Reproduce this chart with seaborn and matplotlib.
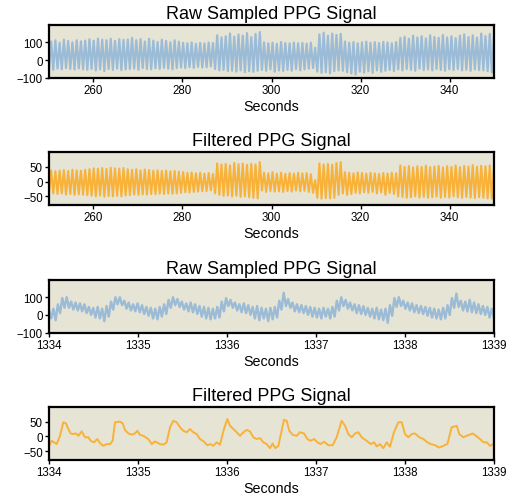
import numpy as np
import matplotlib
matplotlib.use("Agg")
import matplotlib.pyplot as plt
import seaborn as sns

# ---- data ----
# long window 250..350 s, one peak / one trough per beat (105 beats)
raw_peaks = [105, 112, 98, 115, 108, 100, 112, 106, 110,
             118, 110, 122, 115, 112, 120, 108, 118, 114, 116,
             125, 112, 118, 105, 120, 110, 102, 115, 108, 100, 112, 104,
             98, 95, 100, 92, 97, 94, 99, 96,
             140, 128, 135, 150, 132, 145, 138, 152, 130, 148, 158,
             100, 95, 98, 92, 102, 96, 94, 99, 95, 97, 93, 98,
             70,
             145, 155, 138, 150, 142, 148,
             105, 98, 102, 95, 100, 104, 97, 101, 96, 103, 99, 95, 102,
             125, 132, 120, 138, 128, 135, 122, 140, 130, 126, 142, 128,
             135, 124, 138, 145, 130, 140, 128, 150, 136, 148, 140]
raw_troughs = [-50, -55, -48, -52, -45, -50, -53, -47, -52,
               -55, -50, -58, -52, -62, -50, -55, -48, -56, -52,
               -50, -48, -55, -45, -50, -52, -46, -50, -44, -48, -52, -45,
               -42, -45, -40, -44, -38, -42, -40, -36,
               -50, -58, -55, -62, -60, -65, -58, -68, -62, -66, -60,
               -55, -60, -52, -65, -58, -62, -55, -60, -50, -58, -52, -48,
               -45,
               -65, -72, -68, -75, -62, -58,
               -60, -68, -75, -82, -65, -70, -62, -72, -58, -66, -60, -55, -62,
               -52, -58, -50, -55, -60, -48, -56, -52, -58, -50, -55, -60,
               -52, -56, -50, -58, -54, -60, -52, -56, -58, -62, -70]

filt_peaks = [38, 35, 37, 39, 36, 40, 38, 37, 40,
              42, 45, 44, 46, 43, 47, 45, 44, 46, 42,
              40, 42, 38, 41, 39, 37, 38, 36, 37, 35, 36, 34,
              32, 30, 31, 28, 30, 27, 29, 26,
              62, 58, 60, 55, 63, 59, 61, 57, 60, 58, 66,
              30, 28, 32, 27, 30, 26, 29, 27, 30, 28, 29, 25,
              5,
              62, 58, 60, 57, 63, 66,
              32, 30, 28, 31, 29, 27, 30, 28, 26, 29, 27, 30, 28,
              55, 50, 53, 48, 52, 50, 54, 49, 51, 53, 48, 52,
              50, 55, 49, 53, 51, 56, 50, 54, 52, 55, 53]
filt_troughs = [-38, -40, -42, -40, -44, -42, -45, -43, -44,
                -46, -48, -50, -47, -51, -49, -50, -48, -50, -47,
                -46, -44, -45, -43, -44, -42, -43, -41, -42, -40, -41, -40,
                -38, -36, -37, -35, -34, -33, -32, -30,
                -40, -45, -48, -47, -50, -48, -52, -50, -53, -55, -57,
                -30, -35, -32, -34, -33, -35, -32, -34, -30, -33, -31, -35,
                -38,
                -55, -58, -56, -57, -55, -45,
                -40, -45, -42, -38, -40, -36, -38, -35, -40, -37, -45, -38, -42,
                -50, -52, -55, -53, -50, -54, -52, -55, -53, -51, -55, -52,
                -54, -50, -53, -55, -52, -54, -56, -53, -55, -57, -58]

# short window 1334..1339 s, raw band upper / lower edge every 0.05 s
raw_zoom_hi = [30, 35, 60, 95, 100, 75, 70, 65, 60, 45, 40, 45, 35, 50, 75, 100, 100,
               80, 70, 60, 65, 55, 45, 40, 35, 45, 60, 85, 100, 90, 75, 65, 70, 60,
               50, 45, 40, 35, 45, 75, 95, 85, 70, 60, 65, 55, 45, 50, 40, 35, 40,
               45, 80, 125, 90, 70, 60, 55, 50, 45, 40, 35, 40, 35, 45, 80, 100,
               85, 70, 60, 55, 50, 40, 35, 40, 30, 35, 55, 95, 100, 80, 70, 65,
               55, 50, 45, 40, 35, 30, 40, 55, 95, 120, 80, 75, 85, 70, 60, 50, 45, 35]
raw_zoom_lo = [-20, -30, 10, 40, 40, 30, 25, 20, 10, 0, -15, -20, -35, -10, 30, 60, 55,
               35, 25, 20, 15, 5, -5, -20, -25, -10, 5, 40, 55, 45, 30, 20, 15, 5,
               -10, -20, -25, -20, -15, 20, 50, 40, 25, 15, 10, 0, -20, -30, -20, -35, -25,
               -15, 30, 50, 40, 20, 15, 10, 0, -10, -15, -20, -10, -20, -10, 25, 50,
               35, 25, 10, 5, 0, -10, -20, -25, -30, -45, -5, 45, 50, 35, 25, 15,
               10, 5, -5, -15, -20, -25, -20, 0, 40, 45, 25, 20, 15, 10, 5, 0, -15, -20]

# filtered short window: (time offset from 1334 s, value)
filt_zoom_t = [0.000, 0.030, 0.056, 0.086, 0.124, 0.161, 0.191, 0.217, 0.243, 0.273,
               0.303, 0.330, 0.367, 0.404, 0.442, 0.468, 0.506, 0.543, 0.573, 0.610,
               0.648, 0.685, 0.715, 0.742, 0.798, 0.828, 0.854, 0.891, 0.929, 0.966,
               0.993, 1.022, 1.060, 1.116, 1.154, 1.191, 1.247, 1.285, 1.322, 1.360,
               1.397, 1.434, 1.472, 1.509, 1.547, 1.584, 1.622, 1.659, 1.697, 1.742,
               1.779, 1.816, 1.846, 1.884, 1.921, 1.966, 2.004, 2.034, 2.071, 2.109,
               2.146, 2.184, 2.221, 2.258, 2.296, 2.333, 2.371, 2.408, 2.446, 2.483,
               2.513, 2.543, 2.577, 2.614, 2.640, 2.670, 2.700, 2.738, 2.783, 2.820,
               2.865, 2.903, 2.940, 2.978, 3.015, 3.052, 3.090, 3.139, 3.187, 3.232,
               3.288, 3.326, 3.363, 3.401, 3.438, 3.476, 3.513, 3.569, 3.614, 3.652,
               3.682, 3.719, 3.757, 3.794, 3.831, 3.876, 3.925, 3.963, 4.000, 4.037,
               4.075, 4.112, 4.161, 4.206, 4.251, 4.288, 4.337, 4.386, 4.431, 4.476,
               4.524, 4.551, 4.581, 4.610, 4.655, 4.693, 4.730, 4.760, 4.798, 4.843,
               4.880, 4.918, 4.955, 4.985, 5.000]
filt_zoom_v = [-32, -15, -20, -26, 2, 48, 44, 25, 10, 8,
               10, 2, 17, -3, -3, -15, -20, -9, -23, -32,
               -26, -26, -15, 48, 50, 44, 22, 10, 6, 10,
               19, 5, 2, -9, -26, -17, -26, -28, -20, 31,
               53, 48, 31, 19, 14, 25, 14, 8, -9, -18,
               -30, -26, -32, -20, -28, 25, 59, 36, 25, 14,
               2, 14, 22, 17, -3, -9, -6, -20, -26, -40,
               -24, -40, -32, 19, 56, 53, 19, 5, 2, 14,
               10, -9, -15, -9, -20, -26, -18, -30, -30, -3,
               53, 36, 8, -3, 10, 14, -3, -15, -26, -20,
               -34, -26, -40, -20, -35, 14, 48, 48, 8, -3,
               8, 10, -3, -9, -20, -26, -30, -38, -32, -26,
               31, 33, 36, 8, -3, 2, 6, 10, 2, -9,
               -20, -20, -32, -28, -20]

long_range = (250, 350)
short_start = 1334
short_range = (1334, 1339)

blue = "#9bbbd6"
orange = "#f8b23a"


def interleave(a, b):
    out = []
    for p, q in zip(a, b):
        out += [p, q]
    return np.array(out, dtype=float)


raw_long = interleave(raw_troughs, raw_peaks)
filt_long = interleave(filt_troughs, filt_peaks)
t_long = np.linspace(long_range[0], long_range[1], len(raw_long))

raw_short = interleave(raw_zoom_hi, raw_zoom_lo)
t_short = np.linspace(short_range[0], short_range[1], len(raw_short))
t_filt_short = short_start + np.array(filt_zoom_t)

sns.set_style("ticks", {"axes.facecolor": "#e6e4d4", "axes.edgecolor": "black"})
plt.rcParams["font.family"] = ["Liberation Sans", "DejaVu Sans"]
plt.rcParams["text.color"] = "black"
plt.rcParams["axes.labelcolor"] = "black"

fig, axes = plt.subplots(4, 1, figsize=(5.13, 5.02), dpi=100)
fig.subplots_adjust(left=0.0955, right=0.963, top=0.9488, bottom=0.0817, hspace=1.40)

panels = [
    ("Raw Sampled PPG Signal", t_long, raw_long, blue, 1.6, long_range, (-100, 200), [-100, 0, 100], [260, 280, 300, 320, 340]),
    ("Filtered PPG Signal", t_long, filt_long, orange, 1.5, long_range, (-80, 100), [-50, 0, 50], [260, 280, 300, 320, 340]),
    ("Raw Sampled PPG Signal", t_short, raw_short, blue, 1.7, short_range, (-100, 200), [-100, 0, 100], [1334, 1335, 1336, 1337, 1338, 1339]),
    ("Filtered PPG Signal", t_filt_short, np.array(filt_zoom_v, dtype=float), orange, 1.4, short_range, (-80, 100), [-50, 0, 50], [1334, 1335, 1336, 1337, 1338, 1339]),
]

for ax, (title, t, y, col, lw, xr, yr, yt, xt) in zip(axes, panels):
    sns.lineplot(x=t, y=y, ax=ax, color=col, linewidth=lw, sort=False)
    ax.set_xlim(*xr)
    ax.set_ylim(*yr)
    ax.set_yticks(yt)
    ax.set_xticks(xt)
    ax.set_title(title, fontsize=13, pad=5, color="black")
    ax.set_xlabel("Seconds", fontsize=10.3, labelpad=2, color="black")
    ax.tick_params(labelsize=8.3, length=3, width=1, pad=1.5, colors="black")
    for s in ax.spines.values():
        s.set_linewidth(1.6)
        s.set_color("black")

fig.savefig("out.png", dpi=100)
